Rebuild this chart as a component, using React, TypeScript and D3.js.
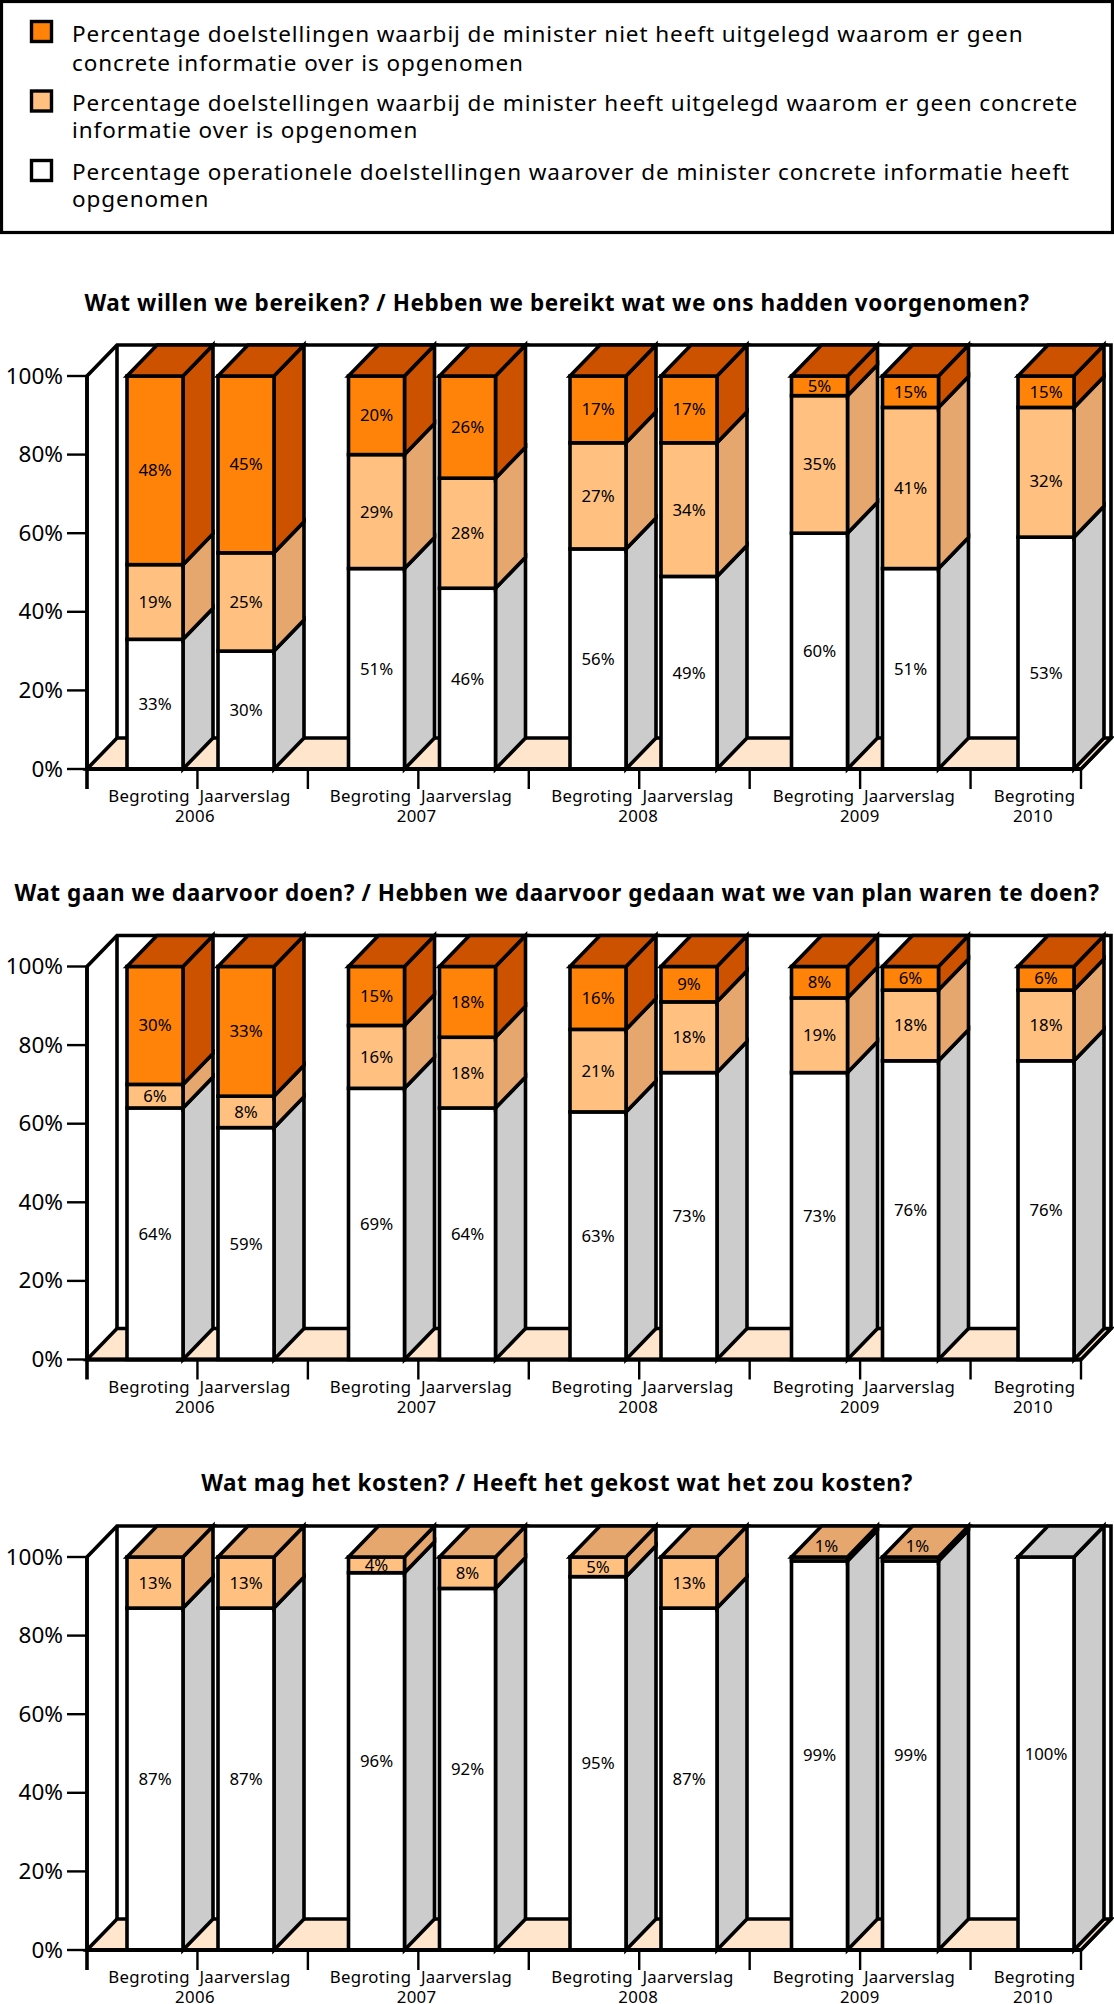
import React from "react";
import * as d3 from "d3";

const legendLines = [
  ["Percentage doelstellingen waarbij de minister niet heeft uitgelegd waarom er geen", "concrete informatie over is opgenomen"],
  ["Percentage doelstellingen waarbij de minister heeft uitgelegd waarom er geen concrete", "informatie over is opgenomen"],
  ["Percentage operationele doelstellingen waarover de minister concrete informatie heeft", "opgenomen"],
];
const years = ["2006", "2007", "2008", "2009", "2010"];
const barNames = ["Begroting", "Jaarverslag", "Begroting", "Jaarverslag", "Begroting", "Jaarverslag", "Begroting", "Jaarverslag", "Begroting"];
const valueTicks = [0, 20, 40, 60, 80, 100];

const titles = [
  "Wat willen we bereiken? / Hebben we bereikt wat we ons hadden voorgenomen?",
  "Wat gaan we daarvoor doen? / Hebben we daarvoor gedaan wat we van plan waren te doen?",
  "Wat mag het kosten? / Heeft het gekost wat het zou kosten?",
];

// drawn heights of each stacked segment
const c1White = [33, 30, 51, 46, 56, 49, 60, 51, 59];
const c1Peach = [19, 25, 29, 28, 27, 34, 35, 41, 33];
const c1Orange = [48, 45, 20, 26, 17, 17, 5, 8, 8];
// printed labels
const c1WhiteL = [33, 30, 51, 46, 56, 49, 60, 51, 53];
const c1PeachL = [19, 25, 29, 28, 27, 34, 35, 41, 32];
const c1OrangeL = [48, 45, 20, 26, 17, 17, 5, 15, 15];

const c2White = [64, 59, 69, 64, 63, 73, 73, 76, 76];
const c2Peach = [6, 8, 16, 18, 21, 18, 19, 18, 18];
const c2Orange = [30, 33, 15, 18, 16, 9, 8, 6, 6];

const c3White = [87, 87, 96, 92, 95, 87, 99, 99, 100];
const c3Peach = [13, 13, 4, 8, 5, 13, 1, 1, 0];
const c3Orange = [0, 0, 0, 0, 0, 0, 0, 0, 0];

const charts = [
  { title: titles[0], titleY: 311, y100: 376, heights: [c1White, c1Peach, c1Orange], labels: [c1WhiteL, c1PeachL, c1OrangeL] },
  { title: titles[1], titleY: 901, y100: 966.5, heights: [c2White, c2Peach, c2Orange], labels: [c2White, c2Peach, c2Orange] },
  { title: titles[2], titleY: 1490.5, y100: 1557, heights: [c3White, c3Peach, c3Orange], labels: [c3White, c3Peach, c3Orange] },
];

const FILL = ["#ffffff", "#ffc080", "#ff8308"];
const SIDE = ["#cccccc", "#e6a76e", "#cc5200"];
const FLOOR = "#ffe5cc";
const FONT = "'Noto Sans', Arial, sans-serif";
const PLOT_H = 393;
const DX = 30;
const DY = 31;
const BAR_W = 56;
const SW = 3.6;

const tickX = d3.scaleLinear().domain([0, 9]).range([87, 1081]);
const groupX = d3.scaleLinear().domain([0, 3]).range([127, 791.5]);
const barLeft = (i: number) => {
  const g = Math.floor(i / 2);
  if (i === 8) return 1018;
  return groupX(g) + (i % 2) * 91;
};
const labelCenter = (i: number) => (i === 8 ? 1034.5 : barLeft(i) + BAR_W / 2 - (i % 2 ? 1 : 6));
const yearCenter = (g: number) => (g === 4 ? 1033 : 195 + g * 221.6);

function poly(pts: [number, number][], fill: string, key?: string) {
  return <polygon key={key} points={pts.map((p) => p.join(",")).join(" ")} fill={fill} stroke="#000" strokeWidth={SW} strokeLinejoin="miter" />;
}

function Chart({ c, idx }: { c: (typeof charts)[number]; idx: number }) {
  const y0 = c.y100 + PLOT_H;
  const y = d3.scaleLinear().domain([0, 100]).range([y0, c.y100]);
  const xL = tickX(0);
  const xR = tickX(9);
  return (
    <g>
      <text x={557} y={c.titleY} textAnchor="middle" fontFamily={FONT} fontWeight="bold" fontSize={22.5} letterSpacing={0.57} fill="#000">
        {c.title}
      </text>
      {/* walls */}
      <polygon points={`${xL},${y0} ${xL},${c.y100} ${xL + DX},${c.y100 - DY} ${xR + DX},${c.y100 - DY} ${xR + DX},${y0 - DY} ${xR},${y0}`} fill="#fff" stroke="#000" strokeWidth={SW} />
      {poly([[xL, y0], [xL + DX, y0 - DY], [xR + DX, y0 - DY], [xR, y0]], FLOOR)}
      <line x1={xL + DX} x2={xL + DX} y1={c.y100 - DY} y2={y0 - DY} stroke="#000" strokeWidth={SW} />
      {/* bars */}
      {barNames.map((_, i) => {
        const left = barLeft(i);
        const right = left + BAR_W;
        let cum = 0;
        const segs = c.heights.map((h, s) => {
          const from = cum;
          cum += h[i];
          return { s, from, to: cum, v: h[i] };
        }).filter((d) => d.v > 0);
        const top = segs[segs.length - 1];
        return (
          <g key={i}>
            {segs.map((d) => (
              <g key={d.s}>
                {poly([[right, y(d.from)], [right + DX, y(d.from) - DY], [right + DX, y(d.to) - DY], [right, y(d.to)]], SIDE[d.s])}
                <rect x={left} width={BAR_W} y={y(d.to)} height={y(d.from) - y(d.to)} fill={FILL[d.s]} stroke="#000" strokeWidth={SW} />
              </g>
            ))}
            {poly([[left, y(top.to)], [left + DX, y(top.to) - DY], [right + DX, y(top.to) - DY], [right, y(top.to)]], SIDE[top.s])}
          </g>
        );
      })}
      {/* front baseline */}
      <line x1={xL} x2={xR} y1={y0} y2={y0} stroke="#000" strokeWidth={SW + 0.4} />
      {/* value labels */}
      {barNames.map((_, i) => {
        const left = barLeft(i);
        let cum = 0;
        return c.heights.map((h, s) => {
          const from = cum;
          cum += h[i];
          const label = c.labels[s][i];
          if (!label) return null;
          let cy = y((from + cum) / 2);
          let cx = left + BAR_W / 2;
          if (idx === 0 && i === 8 && s === 0) cy += 20;
          if (idx === 0 && i === 8 && s === 1) cy += 9;
          if (h[i] === 1) { cy -= 13; cx += 7; }
          return (
            <text key={s} x={cx} y={cy + 6} textAnchor="middle" fontFamily={FONT} fontSize={16.8} fill="#000">
              {label}%
            </text>
          );
        });
      })}
      {/* value axis */}
      <line x1={xL} x2={xL} y1={c.y100} y2={y0 + 20} stroke="#000" strokeWidth={SW} />
      {valueTicks.map((t) => (
        <g key={t}>
          <line x1={67} x2={xL} y1={y(t)} y2={y(t)} stroke="#000" strokeWidth={2.4} />
          <text x={63} y={y(t) + 7.5} textAnchor="end" fontFamily={FONT} fontSize={22.5} fill="#000">
            {t}%
          </text>
        </g>
      ))}
      {/* category axis */}
      {d3.range(1, 10).map((t) => (
        <line key={t} x1={tickX(t)} x2={tickX(t)} y1={y0} y2={y0 + 20} stroke="#000" strokeWidth={2.4} />
      ))}
      {barNames.map((n, i) => (
        <text key={i} x={labelCenter(i)} y={y0 + 33} textAnchor="middle" fontFamily={FONT} fontSize={16.8} letterSpacing={0.35} fill="#000">
          {n}
        </text>
      ))}
      {years.map((n, g) => (
        <text key={n} x={yearCenter(g)} y={y0 + 53} textAnchor="middle" fontFamily={FONT} fontSize={16.8} letterSpacing={0.35} fill="#000">
          {n}
        </text>
      ))}
    </g>
  );
}

export default function App() {
  const legendFills = [FILL[2], FILL[1], FILL[0]];
  const swatchY = [20, 89.5, 159];
  const baselines = [[42, 71], [111, 138], [180, 207]];
  return (
    <svg width={1114} height={2004} style={{ position: "absolute", left: 0, top: 0, background: "#fff" }}>
      <rect x={1.5} y={1.5} width={1111} height={231} fill="#fff" stroke="#000" strokeWidth={3.2} />
      {legendLines.map((lines, k) => (
        <g key={k}>
          <rect x={31.5} y={swatchY[k] + 1.5} width={20} height={20} fill={legendFills[k]} stroke="#000" strokeWidth={3.4} />
          {lines.map((t, j) => (
            <text key={j} x={72} y={baselines[k][j]} fontFamily={FONT} fontSize={22.5} letterSpacing={0.92} fill="#000">
              {t}
            </text>
          ))}
        </g>
      ))}
      {charts.map((c, i) => (
        <Chart key={i} c={c} idx={i} />
      ))}
    </svg>
  );
}
